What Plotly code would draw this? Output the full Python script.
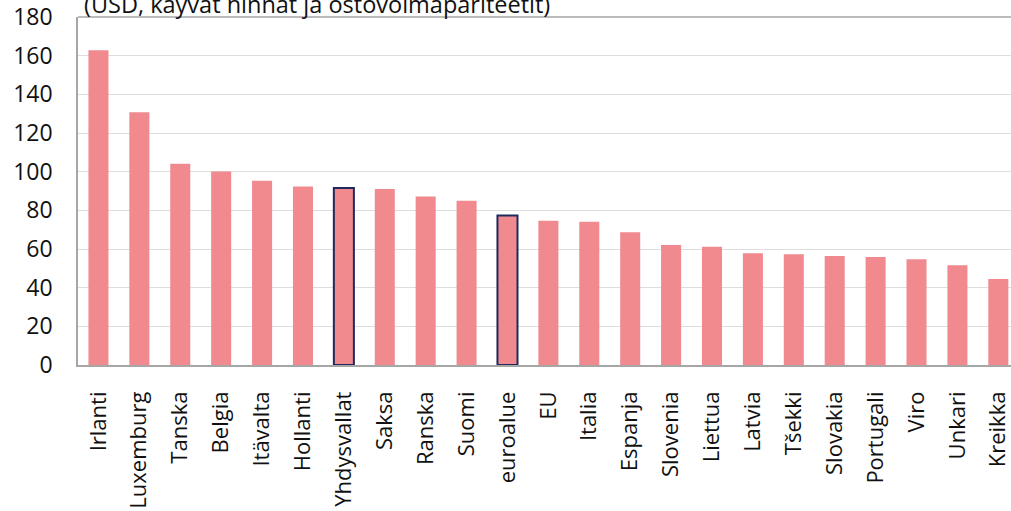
import plotly.graph_objects as go

categories = ["Irlanti", "Luxemburg", "Tanska", "Belgia", "Itävalta", "Hollanti",
              "Yhdysvallat", "Saksa", "Ranska", "Suomi", "euroalue", "EU", "Italia",
              "Espanja", "Slovenia", "Liettua", "Latvia", "Tšekki", "Slovakia",
              "Portugali", "Viro", "Unkari", "Kreikka"]
values = [162.8, 130.7, 104.1, 100.1, 95.3, 92.3, 91.5, 91.0, 87.2, 84.9, 77.3,
          74.6, 74.1, 68.7, 62.1, 61.1, 57.8, 57.3, 56.4, 55.9, 54.7, 51.6, 44.5]
highlighted = ["Yhdysvallat", "euroalue"]
y_ticks = [0, 20, 40, 60, 80, 100, 120, 140, 160, 180]
title_text = "(USD, käyvät hinnat ja ostovoimapariteetit)"

bar_color = "#F08A8F"
outline = ["#1F2A5C" if c in highlighted else bar_color for c in categories]
outline_w = [2 if c in highlighted else 0 for c in categories]

fig = go.Figure(go.Bar(
    x=categories, y=values,
    marker=dict(color=bar_color, line=dict(color=outline, width=outline_w)),
))

W, H = 1011, 511
ml, mr, mt, mb = 78, 0, 17, 146
ph = H - mt - mb
font = "Open Sans"
tc = "#111111"

fig.update_layout(
    width=W, height=H, autosize=False,
    margin=dict(l=ml, r=mr, t=mt, b=mb, pad=0),
    paper_bgcolor="white", plot_bgcolor="white",
    bargap=0.51, showlegend=False,
    font=dict(family=font, size=23, color=tc),
    xaxis=dict(range=[-0.5, 22.31], tickangle=-90, showgrid=False,
               showline=True, linecolor="#A6A6A6", linewidth=1.5,
               ticks="", ticklabelstandoff=16,
               tickfont=dict(family=font, size=22, color=tc)),
    yaxis=dict(range=[0, 180], tickvals=y_ticks, showgrid=True,
               gridcolor="#DDDDDD", gridwidth=1, zeroline=False,
               showline=True, linecolor="#A6A6A6", linewidth=1.5,
               ticks="", ticklabelstandoff=19,
               tickfont=dict(family=font, size=23, color=tc)),
    annotations=[dict(text=title_text, xref="paper", yref="paper",
                      x=(82 - ml) / (W - ml), y=1 - 5 / ph,
                      xanchor="left", yanchor="bottom", showarrow=False,
                      font=dict(family=font, size=23.5, color=tc))],
    shapes=[dict(type="line", xref="paper", yref="paper", x0=0, x1=1, y0=1, y1=1,
                 line=dict(color="#A6A6A6", width=1.5))],
)

fig.write_html("out.html", config={"displayModeBar": False},
               post_script="document.body.style.margin='0';")
